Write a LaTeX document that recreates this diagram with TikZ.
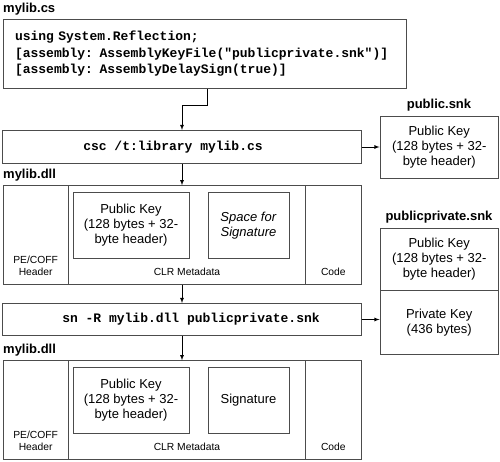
\documentclass[tikz,border=0pt]{standalone}
\usepackage{fontspec}
\setmainfont{Liberation Sans}
\setmonofont{Liberation Mono}
\usetikzlibrary{positioning}
\definecolor{boxgray}{rgb}{0.3,0.3,0.3}
\tikzset{
  box/.style={draw=boxgray, line width=0.9pt, inner sep=0pt},
  keytext/.style={align=center, font=\fontsize{13}{15}\selectfont},
  parttext/.style={align=center, inner sep=0pt, font=\fontsize{10.3}{11.7}\selectfont},
  filename/.style={inner sep=0pt, font=\bfseries\fontsize{13}{15}\selectfont},
  cmd/.style={font=\ttfamily\bfseries\fontsize{13}{16.7}\selectfont},
}
\begin{document}
\begin{tikzpicture}[x=1pt,y=-1pt,>=latex]
\useasboundingbox (0,0) rectangle (500,462);

% source file
\node[filename, anchor=west] (srclbl) at (3,9.3) {mylib.cs};
\node[box, cmd, minimum width=403pt, minimum height=69.5pt, text width=379pt,
      align=left, inner xsep=12pt] (src) at (204.5,53.75)
  {using System.Reflection;\\{}[assembly: AssemblyKeyFile("publicprivate.snk")]\\{}[assembly: AssemblyDelaySign(true)]};

% compiler
\node[box, minimum width=358.5pt, minimum height=33pt,
      label={[cmd, xshift=-9pt]center:csc /t:library mylib.cs}] (csc) at (182,147) {};
\node[filename] (publbl) at (439,105) {public.snk};
\node[box, keytext, minimum width=118.5pt, minimum height=62pt] (pub) at (439.25,147)
  {Public Key\\(128 bytes + 32-\\byte header)};

% the two assemblies
\foreach \y/\n/\sig in {235/A/{\textit{Space for}\\\textit{Signature}},410/B/Signature} {
  \node[filename, anchor=west] (lbl\n) at (3,\y-60) {mylib.dll};
  \node[box, minimum width=65.3pt, minimum height=98.5pt] (hdr\n) at (35.65,\y) {};
  \node[box, minimum width=237.4pt, minimum height=98.5pt] (clr\n) at (187,\y) {};
  \node[box, minimum width=55.3pt, minimum height=98.5pt] (code\n) at (333.35,\y) {};
  \node[box, keytext, minimum width=116pt, minimum height=66.7pt] (key\n) at (131,\y-9.5)
    {Public Key\\(128 bytes + 32-\\byte header)};
  \node[box, keytext, minimum width=81pt, minimum height=66.7pt] (sig\n) at (248.5,\y-9.5) {\sig};
  \node[parttext] (hdrtxt\n) at (35.65,\y+31) {PE/COFF\\Header};
  \node[parttext] (clrtxt\n) at (187,\y+37) {CLR Metadata};
  \node[parttext] (codetxt\n) at (333.35,\y+37) {Code};
}

% signing tool
\node[box, minimum width=358.5pt, minimum height=32pt,
      label={[cmd, xshift=9pt]center:sn -R mylib.dll publicprivate.snk}] (sn) at (182,319.5) {};
\node[filename] (privlbl) at (439,216.7) {publicprivate.snk};
\node[box, keytext, minimum width=118.5pt, minimum height=62.4pt] (privpub) at (439.25,259.5)
  {Public Key\\(128 bytes + 32-\\byte header)};
\node[box, keytext, minimum width=118.5pt, minimum height=63.3pt] (privkey) at (439.25,322.35)
  {Private Key\\(436 bytes)};

% arrows
\draw[->, thick] ([xshift=2.5pt]src.south) -- ++(0,16) -| (csc.north);
\draw[->, thick] (csc.east) -- (pub.west);
\draw[->, thick] (csc.south) -- (csc.south |- clrA.north);
\draw[->, thick] (sn.north |- clrA.south) -- (sn.north);
\draw[->, thick] (sn.east) -- (sn.east -| privkey.west);
\draw[->, thick] (sn.south) -- (sn.south |- clrB.north);

\end{tikzpicture}
\end{document}
